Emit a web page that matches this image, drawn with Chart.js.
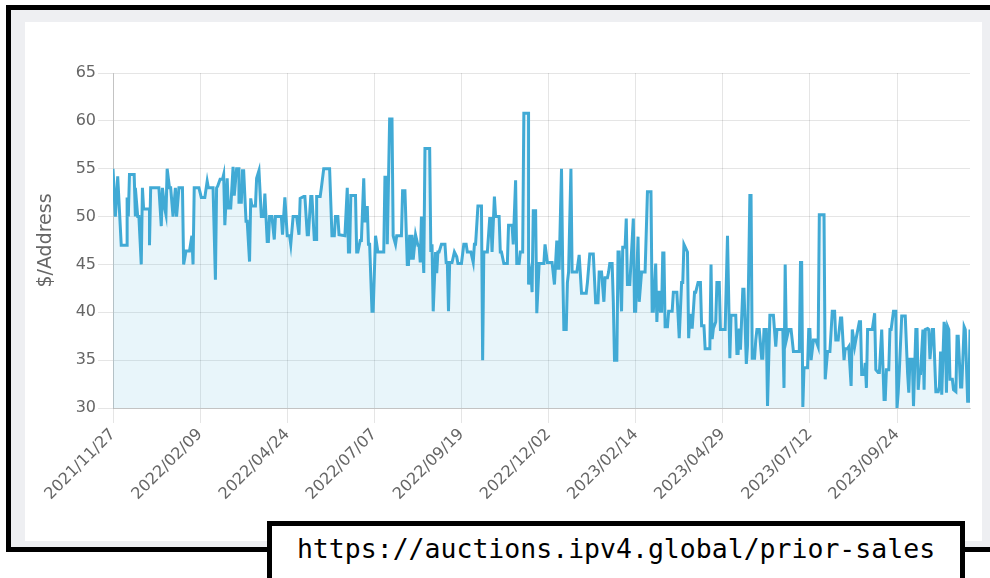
<!DOCTYPE html>
<html>
<head>
<meta charset="utf-8">
<script src="https://cdn.jsdelivr.net/npm/chart.js@4"></script>
<style>
  html, body { margin: 0; padding: 0; background: #fff; }
  body { width: 990px; height: 578px; position: relative; overflow: hidden; }
  /* black outer frame with the grey mat */
  .frame { position: absolute; left: 6px; top: 5px; width: 1010px; height: 537px;
           border: 5px solid #000; background: #eeeff2; }
  .panel { position: absolute; left: 25px; top: 22px; width: 957px; height: 519px; background: #fff; }
  .url { position: absolute; left: 267px; top: 521px; width: 688px; height: 70px;
         border: 5px solid #000; background: #fff; text-align: center;
         font: 26.5px "DejaVu Sans Mono", monospace; color: #000; line-height: 26px; }
  .url span { display: block; padding-top: 10px; }
</style>
</head>
<body>
<div class="frame"></div>
<div class="panel"><canvas id="c" width="957" height="519"></canvas></div>
<div class="url"><span>https://auctions.ipv4.global/prior-sales</span></div>
<script>
// sale day (days since 2021/11/27) and price per address in USD
var saleDay = [
  0,2,4,7,12,12,13,14,18,19,19,21,22,24,25,26,31,31,32,39,41,42,44,45,46,48,49,51,53,54,56,59,60,62,65,67,68,69,73,75,
  78,80,81,85,87,88,89,91,93,94,95,97,98,100,102,103,105,107,107,109,110,111,113,114,116,117,118,121,122,124,126,128,129,131,132,133,135,137,138,143,
  144,146,148,150,151,153,156,158,159,162,163,165,166,168,169,171,173,173,176,177,179,184,186,188,189,191,192,197,199,200,201,202,206,207,208,210,211,213,214,216,
  217,218,220,221,222,223,225,230,231,233,233,235,237,238,240,241,245,246,248,250,251,252,253,254,255,257,259,260,261,262,264,265,269,270,271,272,274,275,276,277,
  279,282,283,284,285,286,288,290,292,293,296,298,300,301,304,306,307,308,310,313,314,315,318,320,321,322,324,325,328,329,330,332,335,336,339,340,342,343,345,346,
  348,349,353,353,355,356,357,359,360,362,366,367,369,373,375,377,378,379,381,382,383,385,386,387,389,390,394,396,398,402,403,405,408,410,412,413,415,417,418,420,
  421,422,424,425,426,428,429,430,432,433,435,436,437,439,440,442,443,444,446,447,449,452,454,457,458,459,461,462,463,464,465,466,467,468,469,471,472,475,476,479,
  481,483,484,485,488,489,490,491,492,494,495,497,499,500,502,503,507,508,509,510,512,513,515,516,520,522,524,525,529,530,531,532,533,535,536,538,539,541,542,543,
  545,546,547,549,551,552,553,555,556,558,561,563,564,569,570,571,572,574,576,577,578,583,584,585,586,587,590,591,592,593,595,597,599,600,604,605,607,609,611,613,
  614,616,618,619,621,622,624,625,627,628,630,631,634,635,636,638,639,640,641,645,647,648,650,651,653,654,655,656,657,659,660,661,663,665,666,667,668,670,673,675,
  676,677,679,680,682,683,684,685,686,688,689,690,692,693,694,696,697,699,701,702,703,704,706,707,708,709,710,711,713,714,716,717,718,720,721,723,724,726,727,728
];
var pricePerAddress = [
  55,50,54.2,47,47,52,50,54.4,54.4,50,53,50,50,45,53,50.8,50.8,47,53,53,49,53,50.8,50.2,55,53,53,50,53,50,53,53,45,46.4,46.4,48,45,53,53,52,
  52,53.7,53,53,43.4,53,53.2,53.9,53.9,54.4,49.1,54,50.9,50.9,55.2,52.2,55,55,51.5,51.5,54.8,54.8,49.5,49.5,45.3,51.9,51.1,51.1,54,54.8,50,50,52.4,47.4,47.4,50,50,47.6,50,50,
  48.1,52,48,48,47.1,50,50,48.1,51.9,52.1,52.1,48.1,48.1,52.1,52.1,47.6,47.6,52.1,52.1,53,55,55,48,48,50,50,48.1,48,53,46.3,46.3,52.2,52.2,46.3,46.3,47.5,47.5,54,49.4,51.1,
  47.1,47.1,40.1,40.1,44,48,46.3,46.3,54.1,54.1,47.1,60.2,60.2,48,47.1,48,48,52.7,52.7,45,45,48.1,45.5,48.1,45.5,48.1,47,47,45.2,50,44.1,57.1,57.1,46.3,47.1,40.1,46.3,44.1,46.3,46.3,
  47.1,47.1,45.2,45.2,40.1,45.2,45.2,46.3,45.8,45.1,45.1,47.1,47.1,46.3,46.3,45.2,47.1,47.1,51.1,51.1,35,46.3,46.3,49.8,49.8,46.3,52.1,50,50,46.3,46.3,45.1,45.1,49.1,49.1,47.1,53.8,45.1,45.1,46.3,
  46.3,60.8,60.8,42.9,44.3,42.1,50.6,50.6,39.9,45.1,45.1,47.1,45.2,45.2,42.9,47.5,44.6,44.6,55,44.6,38.2,38.2,43.1,44.2,55,44.2,44.2,46,42,42,43.1,46.1,46.1,41,41,44.2,44.2,41.1,43.6,43.6,
  44.2,45.1,45.1,41.1,35,35,46.3,46.3,40.1,46.8,46.8,49.8,42.9,42.9,45.2,49.8,40.1,40.1,47.9,41.1,44.2,44.2,52.6,52.6,40.1,40.1,45.1,39,42.1,42.1,40.1,40.1,46.2,46.2,38.5,38.5,40.1,40.1,42.1,42.1,
  37.3,43.1,43.1,47.1,46.3,37.3,39.7,39.7,38.3,42.1,42.1,43.1,43.1,38.6,38.6,36.2,36.2,45,37.2,38.3,39,43.1,43.1,38.2,38.2,48,35.2,39.7,39.7,35.7,35.7,38.3,36.1,42.4,42.4,34.6,36.5,52.2,52.2,35.2,
  35.2,37.1,38.2,38.2,35.2,35.2,38.2,38.2,30.2,39.7,39.7,36.4,38.2,38.2,32.1,45,37.1,38.2,38.2,37.1,35.9,35.9,45.2,45.2,30.1,34.2,34.2,38.2,38.2,35,37.1,37.1,36.4,50.2,50.2,33,35.9,35.9,40.1,40.1,
  37.1,37.1,39.4,39.4,35,36.2,36.2,36.4,32.3,38.2,36.4,37.1,39,39,33.5,33.5,34.7,32.1,38.2,38.2,39.9,34,33.7,33.7,38.2,34.5,30.9,30.9,34,34,38.2,38.2,40.1,40.1,30,31.6,34,39.6,39.6,33.6,
  31.6,35.1,35.1,30.2,38.2,38.2,31.9,33.6,33.6,38.2,31.9,38.2,38.3,38.2,35.1,38.2,38.2,31.7,31.7,32.2,35.9,31.4,39,38.2,31.6,38.5,38.2,33,33,31.9,31.7,37.5,37.5,32.2,32.2,38.5,38.2,30.7,30.7,38.2
];
var tickDays = [0, 74, 148, 222, 296, 370, 444, 518, 592, 666];
var tickLabels = ['2021/11/27', '2022/02/09', '2022/04/24', '2022/07/07', '2022/09/19',
                  '2022/12/02', '2023/02/14', '2023/04/29', '2023/07/12', '2023/09/24'];
var lastDay = 728;

var gridColor = 'rgba(0,0,0,0.1)';
var textColor = '#666';
Chart.defaults.font.family = '"DejaVu Sans", sans-serif';
Chart.defaults.font.size = 16;
Chart.defaults.color = textColor;

var points = saleDay.map(function (d, i) { return { x: d, y: pricePerAddress[i] }; });

new Chart(document.getElementById('c'), {
  type: 'line',
  data: {
    datasets: [{
      data: points,
      borderColor: 'rgb(65,170,213)',
      backgroundColor: 'rgba(65,170,213,0.12)',
      borderWidth: 3,
      fill: 'start',
      pointRadius: 0,
      tension: 0
    }]
  },
  options: {
    responsive: false,
    animation: false,
    layout: { autoPadding: false, padding: { top: 51, right: 12, left: 0, bottom: 0 } },
    plugins: { legend: { display: false }, tooltip: { enabled: false } },
    scales: {
      x: {
        type: 'linear', min: 0, max: lastDay,
        afterBuildTicks: function (s) { s.ticks = tickDays.map(function (v) { return { value: v }; }); },
        afterFit: function (s) { s.height = 133; },
        ticks: {
          autoSkip: false, maxRotation: 45, minRotation: 45, padding: 2,
          callback: function (v) { var i = tickDays.indexOf(v); return i < 0 ? null : tickLabels[i]; }
        },
        grid: { color: gridColor, tickLength: 15 },
        border: { color: 'rgba(0,0,0,0.15)' }
      },
      y: {
        min: 30, max: 65,
        afterFit: function (s) { s.width = 88; },
        ticks: { stepSize: 5, padding: 2 },
        grid: { color: gridColor, tickLength: 15 },
        border: { color: 'rgba(0,0,0,0.15)' },
        title: { display: true, text: '$/Address', font: { size: 19 }, color: textColor, padding: { top: 10, bottom: 0 } }
      }
    }
  }
});
</script>
</body>
</html>
